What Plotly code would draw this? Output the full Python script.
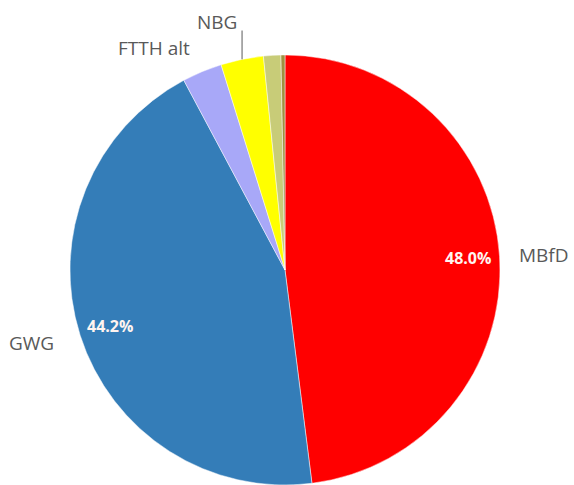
import math
import plotly.graph_objects as go

labels = ["MBfD", "GWG", "FTTH alt", "NBG", "Sonstige", "k.A."]
values = [48.0, 44.2, 3.0, 3.2, 1.3, 0.3]
colors = ["#FF0000", "#347DB8", "#A8A8F8", "#FFFF00", "#C8CC78", "#A09040"]
pct_labels = ["48.0%", "44.2%", "", "", "", ""]
show_name = [True, True, True, True, False, False]

W, H = 574, 485
ml, mr, mt, mb = 70, 74, 55, 0

fig = go.Figure(go.Pie(
    labels=labels, values=values, sort=False, direction="clockwise", rotation=0,
    marker=dict(colors=colors, line=dict(color="rgba(255,255,255,0.6)", width=0.8)),
    textinfo="none", hoverinfo="label+percent", showlegend=False,
))

total = sum(values)
ann = []
shapes = []
cum = 0.0
for i, (lab, v) in enumerate(zip(labels, values)):
    mid = (cum + v / 2) / total * 2 * math.pi
    cum += v
    s, c = math.sin(mid), math.cos(mid)
    if pct_labels[i]:
        r = 0.4275
        ann.append(dict(x=0.5 + r * s, y=0.5 + r * c, xref="paper", yref="paper",
                        text=pct_labels[i], showarrow=False, xanchor="center", yanchor="middle",
                        font=dict(family="Open Sans", size=16, color="#FFF4F0", weight="bold")))
    if not show_name[i]:
        continue
    if lab == "NBG":
        ex, ey = 0.5 + 0.5 * s, 0.5 + 0.5 * c
        ty = ey + 0.067
        shapes.append(dict(type="line", xref="paper", yref="paper", x0=ex, x1=ex, y0=ey, y1=ty,
                           line=dict(color="#595959", width=1)))
        ann.append(dict(x=ex - 0.008, y=ty + 0.02, xref="paper", yref="paper", text=lab,
                        showarrow=False, xanchor="right", yanchor="middle",
                        font=dict(family="Open Sans", size=19, color="#595959")))
    else:
        r = 0.54 if s > 0 else 0.56
        ann.append(dict(x=0.5 + r * s, y=0.5 + r * c, xref="paper", yref="paper", text=lab,
                        showarrow=False, xanchor="left" if s > 0 else "right", yanchor="middle",
                        font=dict(family="Open Sans", size=19, color="#595959")))

fig.update_layout(
    width=W, height=H, margin=dict(l=ml, r=mr, t=mt, b=mb),
    paper_bgcolor="white", plot_bgcolor="white",
    annotations=ann, shapes=shapes,
)
fig.write_html(
    "out.html",
    config={"displayModeBar": False},
    post_script="document.body.style.margin='0';document.body.style.overflow='hidden';",
)
